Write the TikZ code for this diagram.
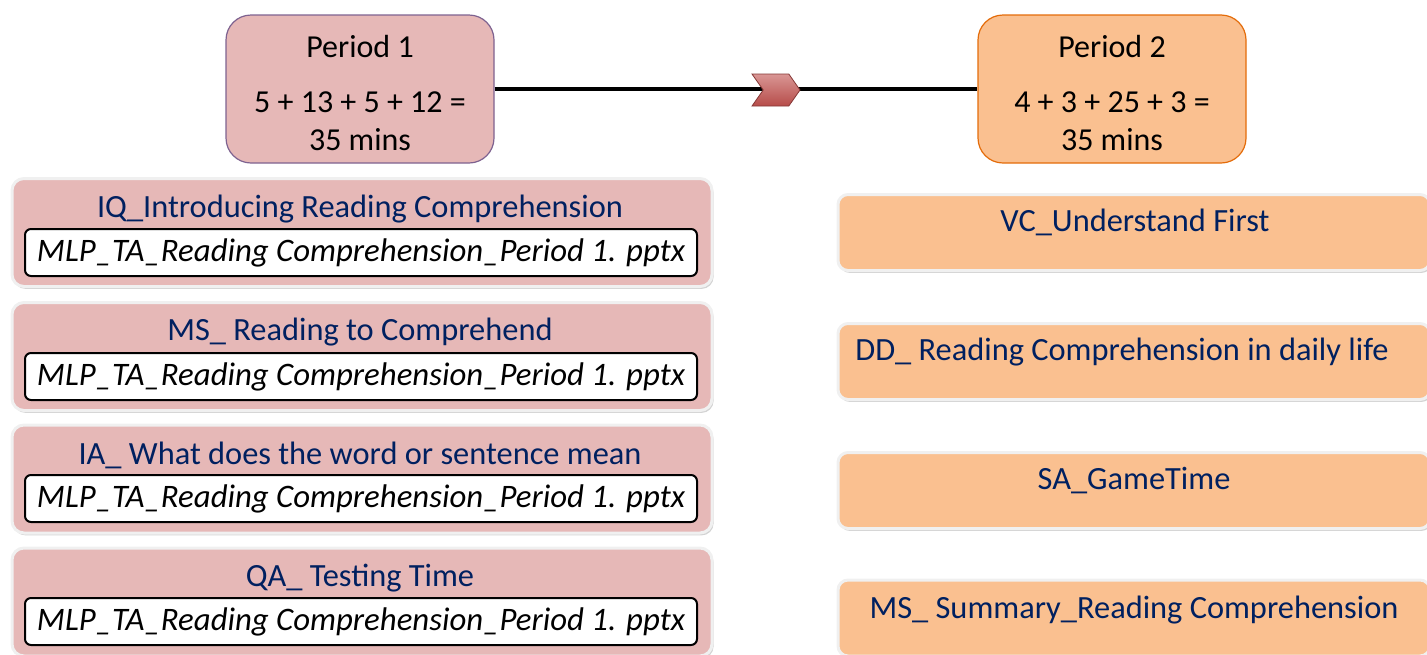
\documentclass[tikz,border=0pt]{standalone}
\usepackage{fontspec}
\setmainfont{Carlito}
\usepackage{tikz}
\usetikzlibrary{positioning,shapes.symbols,shadows}

\definecolor{roseFill}{HTML}{E6B8B7}
\definecolor{roseLine}{HTML}{7E6290}
\definecolor{peachFill}{HTML}{FAC090}
\definecolor{peachLine}{HTML}{E46C0A}
\definecolor{navyText}{HTML}{002060}
\definecolor{chevFill}{HTML}{C0504D}

\tikzset{
  periodbox/.style={rectangle,rounded corners=12.5pt,minimum width=134pt,minimum height=74pt,
    align=center,font=\fontsize{16}{19}\selectfont,line width=0.6pt},
  itembox/.style={rectangle,rounded corners=6pt,fill=roseFill,draw=gray!12,line width=1.5pt,
    minimum width=350pt,minimum height=54pt,
    drop shadow={opacity=0.35,shadow xshift=0.8pt,shadow yshift=-1.2pt}},
  acttitle/.style={text=navyText,font=\fontsize{16.2}{18}\selectfont},
  filebox/.style={rectangle,rounded corners=3pt,fill=white,draw=black,line width=1pt,
    minimum width=336pt,minimum height=23.5pt,font=\fontsize{16.4}{18}\selectfont\itshape},
  actbox/.style={rectangle,rounded corners=5pt,fill=peachFill,draw=gray!12,line width=1.5pt,
    minimum width=296pt,minimum height=38pt,
    drop shadow={opacity=0.35,shadow xshift=0.8pt,shadow yshift=-1.2pt}},
  chevron/.style={signal,signal to=east,signal from=west,signal pointer angle=110,
    top color=chevFill!60,bottom color=chevFill!95!black,draw=chevFill!70!black,line width=0.4pt,
    minimum width=24pt,minimum height=16pt,inner sep=0pt}
}

\begin{document}
\begin{tikzpicture}[x=0.5pt,y=-0.5pt]
  \useasboundingbox (0,0) rectangle (1427,654);

  % periods
  \node[periodbox,fill=roseFill,draw=roseLine] (p1) at (360,89)
    {\rule{0pt}{15pt}Period 1\\[8.5pt]5 + 13 + 5 + 12 =\\35 mins};
  \node[periodbox,fill=peachFill,draw=peachLine] (p2) at (1112,89)
    {\rule{0pt}{15pt}Period 2\\[8.5pt]4 + 3 + 25 + 3 =\\35 mins};
  \draw[line width=1.6pt] (p1) -- (p2);
  \node[chevron] (chev) at (776,90) {};

  % period 1 items
  \node[itembox] (i1) at (362,232.5) {};
  \node[acttitle] (t1) at (360,209) {IQ\_Introducing Reading Comprehension};
  \node[filebox] (f1) at (361,252.5) {MLP\_TA\_Reading Comprehension\_Period 1. pptx};

  \node[itembox] (i2) at (362,356.5) {};
  \node[acttitle] (t2) at (360,332) {MS\_ Reading to Comprehend};
  \node[filebox] (f2) at (361,376.5) {MLP\_TA\_Reading Comprehension\_Period 1. pptx};

  \node[itembox] (i3) at (362,479) {};
  \node[acttitle] (t3) at (360,455) {IA\_ What does the word or sentence mean};
  \node[filebox] (f3) at (361,498.5) {MLP\_TA\_Reading Comprehension\_Period 1. pptx};

  \node[itembox] (i4) at (362,602) {};
  \node[acttitle] (t4) at (360,578) {QA\_ Testing Time};
  \node[filebox] (f4) at (361,621.5) {MLP\_TA\_Reading Comprehension\_Period 1. pptx};

  % period 2 items
  \node[actbox] (a1) at (1134,232.5) {};
  \node[acttitle] (b1) at (1135,222) {VC\_Understand First};
  \node[actbox] (a2) at (1134,361.5) {};
  \node[acttitle] (b2) at (1122,352) {DD\_ Reading Comprehension in daily life};
  \node[actbox] (a3) at (1134,490.5) {};
  \node[acttitle] (b3) at (1134,481) {SA\_GameTime};
  \node[actbox] (a4) at (1134,618) {};
  \node[acttitle] (b4) at (1134,610) {MS\_ Summary\_Reading Comprehension};
\end{tikzpicture}
\end{document}
